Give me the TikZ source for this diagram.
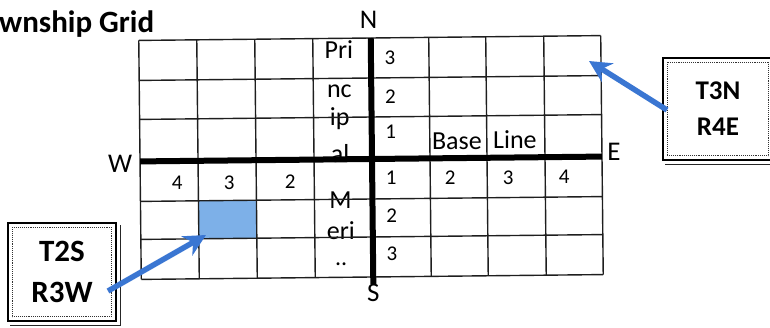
\documentclass[tikz,border=0pt]{standalone}
\usepackage{fontspec}
\setmainfont{Carlito}
\usetikzlibrary{arrows.meta}
\definecolor{gridc}{HTML}{1E1E1E}
\definecolor{cellblue}{HTML}{7DB0E8}
\definecolor{arrowblue}{HTML}{3A76D2}
\tikzset{
  gridline/.style={draw=gridc, line width=1.4pt},
  thickline/.style={draw=black, line width=6pt},
  mlbl/.style={font=\fontsize{26}{28}\selectfont, inner sep=0pt, anchor=base},
  num/.style={font=\fontsize{21}{23}\selectfont, inner sep=0pt},
  compass/.style={font=\fontsize{27}{29}\selectfont, inner sep=0pt},
  tbox/.style={draw=black, line width=1.3pt, align=center, inner sep=0pt},
  innerdots/.style={draw=black!80, line width=0.9pt, densely dotted},
  shadowline/.style={draw=black!85, line width=1pt},
  bluearrow/.style={draw=arrowblue, line width=5.5pt, -{Stealth[length=22pt,width=22pt]}}
}
\begin{document}
\begin{tikzpicture}[x=1pt,y=-1pt]
\useasboundingbox (0,0) rectangle (770,327);
% title
\node[anchor=base west, inner sep=0pt, font=\bfseries\fontsize{31}{34}\selectfont] (title) at (-1,32) {wnship Grid};
\begin{scope}[rotate around={0.6:(371,158)}]
% shaded cell
\fill[cellblue] (198,199) rectangle (256,237);
% principal meridian letters
\node[mlbl] (m1) at (340,58) {Pri};
\node[mlbl] (m2) at (340,97) {nc};
\node[mlbl] (m3) at (340,125) {ip};
\node[mlbl] (m4) at (340,162) {al};
\node[mlbl] (m5) at (340,208) {M};
\node[mlbl] (m6) at (340,239) {eri};
\node[mlbl, font=\fontsize{24}{26}\selectfont, text height=2pt, text depth=0pt] (m7) at (340,265) {..};
% base line words
\node[mlbl] (b1) at (457,150) {Base};
\node[mlbl] (b2) at (515,150) {Line};
% township numbers
\node[num] (n3) at (391,58) {3};
\node[num] (n2) at (391,97) {2};
\node[num] (n1) at (391,132) {1};
\node[num] (s1) at (391,178) {1};
\node[num] (s2) at (391,216) {2};
\node[num] (s3) at (391,254) {3};
% range numbers
\node[num] (w4) at (177,181) {4};
\node[num] (w3) at (229,181) {3};
\node[num] (w2) at (290,181) {2};
\node[num] (e2) at (450,179) {2};
\node[num] (e3) at (508,179) {3};
\node[num] (e4) at (564,179) {4};
% grid
\foreach \x in {140,198,256,314,430,487,545,602}
  \draw[gridline] (\x,38) -- (\x,277);
\foreach \y in {38,78,117,199,237,277}
  \draw[gridline] (140,\y) -- (602,\y);
\coordinate (bw) at (140,159);
\coordinate (be) at (602,159);
\coordinate (mn) at (372,38);
\coordinate (ms) at (372,284);
\draw[thickline] (bw) -- (be);
\draw[thickline] (mn) -- (ms);
% compass
\node[compass] (N) at (370,20) {N};
\node[compass] (S) at (372,293) {S};
\node[compass] (W) at (120,161) {W};
\node[compass] (E) at (614,154) {E};
\end{scope}
% T2S box
\node[tbox, minimum width=108pt, minimum height=98pt, font=\bfseries\fontsize{31}{41}\selectfont] (sw) at (62,272) {T2S\\R3W};
\draw[innerdots] ([shift={(5,5)}]sw.north west) rectangle ([shift={(-5,-5)}]sw.south east);
\draw[shadowline] ([shift={(4,3)}]sw.north east) -- ([shift={(4,4)}]sw.south east) -- ([shift={(3,4)}]sw.south west);
% T3N box
\node[tbox, minimum width=110pt, minimum height=102pt, font=\bfseries\fontsize{27}{36}\selectfont] (ne) at (718,109) {T3N\\R4E};
\draw[innerdots] ([shift={(5,5)}]ne.north west) rectangle ([shift={(-5,-5)}]ne.south east);
\draw[shadowline] ([shift={(3,4)}]ne.south west) -- ([shift={(4,4)}]ne.south east);
% arrows
\coordinate (swtail) at (108,291);
\coordinate (swtip) at (206,235);
\coordinate (netail) at (667,110);
\coordinate (netip) at (589,61);
\draw[bluearrow] (swtail) -- (swtip);
\draw[bluearrow] (netail) -- (netip);
\end{tikzpicture}
\end{document}
